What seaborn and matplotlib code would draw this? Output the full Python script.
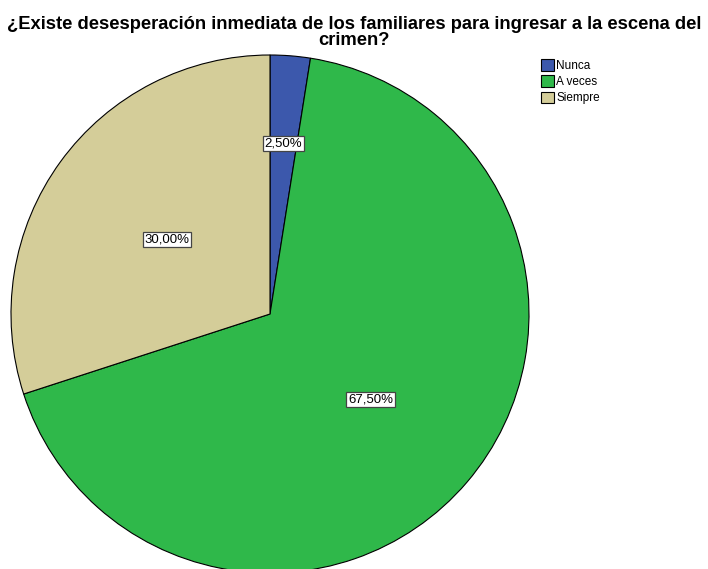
import matplotlib
matplotlib.use("Agg")
import matplotlib.pyplot as plt
import numpy as np
import seaborn as sns
from matplotlib.patches import Patch

categories = ["Nunca", "A veces", "Siempre"]
percentages = [2.5, 67.5, 30.0]
label_texts = ["2,50%", "67,50%", "30,00%"]
colors = ["#3c58ac", "#2fb84a", "#d4cd99"]
label_radius = [0.66, 0.51, 0.49]
title_lines = ["¿Existe desesperación inmediata de los familiares para ingresar a la escena del",
               "crimen?"]

sns.set_style("white")
plt.rcParams["font.family"] = ["Liberation Sans", "DejaVu Sans"]

W, H = 708, 569
fig = plt.figure(figsize=(W / 100, H / 100), dpi=100)
ax = fig.add_axes([0, 0, 1, 1])

cx, cy, r = 270, H - 314, 259
wedges, _ = ax.pie(percentages, colors=colors, startangle=90, counterclock=False,
                   center=(cx, cy), radius=r, frame=True,
                   wedgeprops=dict(edgecolor="black", linewidth=0.8))
ax.set_xlim(0, W)
ax.set_ylim(0, H)
ax.set_aspect("equal")
ax.axis("off")

# percentage boxes inside each slice
for w, txt, lr in zip(wedges, label_texts, label_radius):
    ang = np.deg2rad((w.theta1 + w.theta2) / 2)
    x = cx + lr * r * np.cos(ang)
    y = cy + lr * r * np.sin(ang)
    ax.text(x, y, txt, ha="center", va="center", fontsize=9.5, color="black",
            bbox=dict(boxstyle="square,pad=0.12", fc="white", ec="#444444", lw=0.9))

# title, two lines placed separately
for line, ypix in zip(title_lines, [29, 45]):
    fig.text(0.5, 1 - ypix / H, line, ha="center", va="baseline",
             fontsize=13.2, fontweight="bold", color="black")

handles = [Patch(facecolor=c, edgecolor="black", linewidth=0.8, label=l) for c, l in zip(colors, categories)]
fig.legend(handles=handles, loc="upper left", bbox_to_anchor=(533 / W, 1 - 51 / H),
           frameon=False, fontsize=8.5, handlelength=1.1, handleheight=1.1,
           handletextpad=0.15, labelspacing=0.3, borderpad=0.2, labelcolor="black")

fig.savefig("out.png", dpi=100)
